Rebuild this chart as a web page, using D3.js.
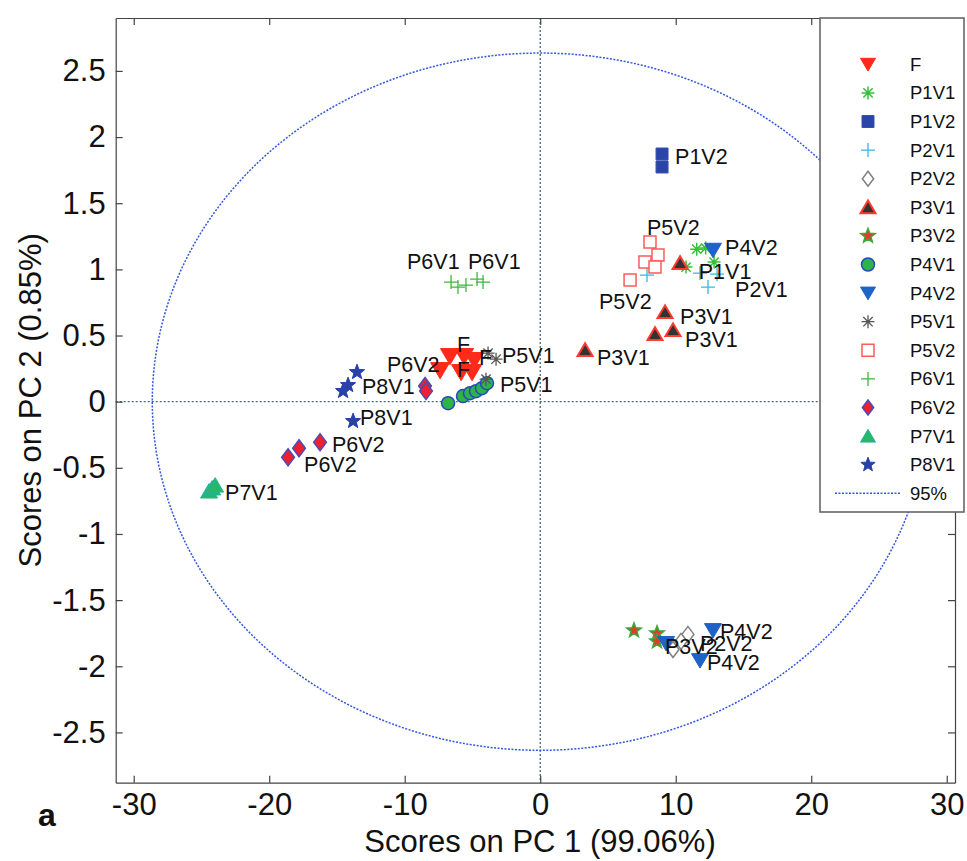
<!DOCTYPE html>
<html>
<head>
<meta charset="utf-8">
<script src="https://cdn.jsdelivr.net/npm/d3@7"></script>
<style>
  body { margin: 0; background: #fff; }
  svg { display: block; }
  text { font-family: "Liberation Sans", Arial, Helvetica, sans-serif; fill: #111; }
</style>
</head>
<body>
<svg id="chart" width="967" height="861"></svg>
<script>
// PCA scores (PC1, PC2) per sample group
const F    = [[-7.39, 0.238], [-6.66, 0.344], [-5.84, 0.223], [-5.62, 0.344], [-4.87, 0.314], [-5.03, 0.223]];
const P1V1 = [[12.21, 1.161], [11.55, 1.153], [10.76, 1.017], [12.83, 1.055]];
const P1V2 = [[8.99, 1.872], [8.99, 1.774]];
const P2V1 = [[7.88, 0.957], [11.79, 0.972], [13.05, 0.964], [12.38, 0.866]];
const P2V2 = [[10.90, -1.759], [10.39, -1.812], [9.80, -1.873]];
const P3V1 = [[10.32, 1.048], [9.21, 0.677], [8.47, 0.511], [9.80, 0.541], [3.31, 0.390]];
const P3V2 = [[6.92, -1.729], [8.62, -1.751], [8.62, -1.812]];
const P4V1 = [[-6.80, -0.011], [-5.70, 0.042], [-5.18, 0.064], [-4.74, 0.079], [-4.30, 0.102], [-3.93, 0.140]];
const P4V2 = [[12.75, 1.146], [12.75, -1.729], [11.79, -1.956], [9.29, -1.826]];
const P5V1 = [[-3.85, 0.367], [-3.26, 0.321], [-4.00, 0.170]];
const P5V2 = [[8.10, 1.206], [8.69, 1.108], [7.73, 1.055], [8.47, 1.017], [6.63, 0.919]];
const P6V1 = [[-6.58, 0.904], [-6.07, 0.866], [-5.48, 0.881], [-4.66, 0.927], [-4.22, 0.904]];
const P6V2 = [[-8.50, 0.118], [-8.43, 0.080], [-18.61, -0.420], [-17.80, -0.352], [-16.25, -0.306]];
const P7V1 = [[-24.44, -0.677], [-24.21, -0.654], [-23.99, -0.632]];
const P8V1 = [[-13.52, 0.223], [-14.18, 0.125], [-14.55, 0.080], [-13.81, -0.147]];

// Sample annotations: text and anchor (PC1, PC2)
const pointLabels = [
  ["F", -6.14, 0.427], ["F", -6.14, 0.238], ["F", -4.52, 0.329],
  ["P1V1", 11.70, 0.979],
  ["P1V2", 9.95, 1.85],
  ["P2V1", 14.38, 0.843],
  ["P3V1", 10.32, 0.639], ["P3V1", 10.69, 0.465], ["P3V1", 4.19, 0.329],
  ["P3V2", 9.21, -1.858],
  ["P2V2", 11.79, -1.835],
  ["P4V2", 13.64, 1.161], ["P4V2", 13.27, -1.744], ["P4V2", 12.31, -1.979],
  ["P5V1", -2.82, 0.344], ["P5V1", -2.97, 0.125],
  ["P5V2", 7.88, 1.312], ["P5V2", 4.34, 0.753],
  ["P6V1", -9.83, 1.055], ["P6V1", -5.33, 1.055],
  ["P6V2", -11.31, 0.276], ["P6V2", -15.37, -0.329], ["P6V2", -17.43, -0.480],
  ["P7V1", -23.26, -0.692],
  ["P8V1", -13.15, 0.110], ["P8V1", -13.30, -0.125]
];

const groupNames = ["F", "P1V1", "P1V2", "P2V1", "P2V2", "P3V1", "P3V2", "P4V1", "P4V2",
                    "P5V1", "P5V2", "P6V1", "P6V2", "P7V1", "P8V1"];
const groupData = [F, P1V1, P1V2, P2V1, P2V2, P3V1, P3V2, P4V1, P4V2, P5V1, P5V2, P6V1, P6V2, P7V1, P8V1];

const xTicks = [-30, -20, -10, 0, 10, 20, 30];
const xTickLabels = ["-30", "-20", "-10", "0", "10", "20", "30"];
const yTicks = [-2.5, -2, -1.5, -1, -0.5, 0, 0.5, 1, 1.5, 2, 2.5];
const yTickLabels = ["-2.5", "-2", "-1.5", "-1", "-0.5", "0", "0.5", "1", "1.5", "2", "2.5"];

// 95% confidence ellipse semi-axes (PC1, PC2)
const limit95 = [28.63, 2.635];

const xTitle = "Scores on PC 1 (99.06%)";
const yTitle = "Scores on PC 2 (0.85%)";
const panelTag = "a";

// Marker appearance per group
const styles = {
  F:    { shape: "triDown",  size: 19, fill: "#ff2a1a", stroke: "#ff2a1a", sw: 1 },
  P1V1: { shape: "asterisk", size: 13, fill: "none",    stroke: "#35c03a", sw: 1.5 },
  P1V2: { shape: "square",   size: 12, fill: "#2a45a8", stroke: "#3a4fb0", sw: 1 },
  P2V1: { shape: "plus",     size: 14, fill: "none",    stroke: "#35b8e0", sw: 1.3 },
  P2V2: { shape: "diamond",  size: 16, fill: "#fff",    stroke: "#808080", sw: 1.5 },
  P3V1: { shape: "triUp",    size: 15, fill: "#333",    stroke: "#ff3b30", sw: 2 },
  P3V2: { shape: "star",     size: 15, fill: "#e8382a", stroke: "#3aa83a", sw: 1.5 },
  P4V1: { shape: "circle",   size: 13, fill: "#2db34a", stroke: "#2448c0", sw: 1.5 },
  P4V2: { shape: "triDown",  size: 17, fill: "#1f62c8", stroke: "#1f62c8", sw: 1 },
  P5V1: { shape: "asterisk", size: 13, fill: "none",    stroke: "#555",    sw: 1.3 },
  P5V2: { shape: "square",   size: 12, fill: "#fff",    stroke: "#ff5a5a", sw: 1.5 },
  P6V1: { shape: "plus",     size: 14, fill: "none",    stroke: "#3cb83c", sw: 1.3 },
  P6V2: { shape: "diamond",  size: 17, fill: "#ee2030", stroke: "#4a4ab8", sw: 1.5 },
  P7V1: { shape: "triUp",    size: 17, fill: "#23b86a", stroke: "#2ab0a0", sw: 1 },
  P8V1: { shape: "star",     size: 16, fill: "#2840a8", stroke: "#2840a8", sw: 1 }
};

function markerPath(shape, s) {
  const h = s / 2;
  switch (shape) {
    case "triDown": return `M${-h},${-h * 0.8}L${h},${-h * 0.8}L0,${h * 0.9}Z`;
    case "triUp":   return `M${-h},${h * 0.8}L${h},${h * 0.8}L0,${-h * 0.9}Z`;
    case "square":  return `M${-h},${-h}H${h}V${h}H${-h}Z`;
    case "diamond": return `M0,${-h}L${h * 0.75},0L0,${h}L${-h * 0.75},0Z`;
    case "circle":  return `M${h},0A${h},${h} 0 1,1 ${-h},0A${h},${h} 0 1,1 ${h},0Z`;
    case "plus":    return `M${-h},0H${h}M0,${-h}V${h}`;
    case "asterisk": {
      const d = h * 0.72;
      return `M${-h},0H${h}M0,${-h}V${h}M${-d},${-d}L${d},${d}M${-d},${d}L${d},${-d}`;
    }
    case "star": {
      const pts = [];
      for (let i = 0; i < 10; i++) {
        const r = i % 2 === 0 ? h : h * 0.42;
        const a = -Math.PI / 2 + i * Math.PI / 5;
        pts.push([r * Math.cos(a), r * Math.sin(a)]);
      }
      return "M" + pts.map(p => p.join(",")).join("L") + "Z";
    }
  }
  return "";
}

const svg = d3.select("#chart");
const plot = { left: 115.7, right: 955, top: 18, bottom: 782.7 };

const x = d3.scaleLinear().domain([-31.33, 30.61]).range([plot.left, plot.right]);
const y = d3.scaleLinear().domain([-2.88, 2.90]).range([plot.bottom, plot.top]);

// Zero reference lines
svg.append("line")
  .attr("x1", x(0)).attr("x2", x(0)).attr("y1", plot.top).attr("y2", plot.bottom)
  .attr("stroke", "#44687a").attr("stroke-width", 1.3).attr("stroke-dasharray", "2,2");
svg.append("line")
  .attr("x1", plot.left).attr("x2", plot.right).attr("y1", y(0)).attr("y2", y(0))
  .attr("stroke", "#44687a").attr("stroke-width", 1.3).attr("stroke-dasharray", "2,2");

// 95% confidence ellipse
svg.append("ellipse")
  .attr("cx", x(0)).attr("cy", y(0))
  .attr("rx", x(limit95[0]) - x(0)).attr("ry", y(0) - y(limit95[1]))
  .attr("fill", "none").attr("stroke", "#3358e0").attr("stroke-width", 1.5)
  .attr("stroke-dasharray", "2,1.5");

// Axes (ticks pointing inward on all four sides)
const axisColor = "#444";
function styleAxis(g) {
  g.selectAll("path, line").attr("stroke", axisColor).attr("stroke-width", 1.2);
  g.selectAll("text").attr("fill", "#111").style("font-family", '"Liberation Sans", Arial, sans-serif');
}
svg.append("g").attr("transform", `translate(0,${plot.bottom})`)
  .call(d3.axisBottom(x).tickValues(xTicks).tickFormat((d, i) => xTickLabels[i])
    .tickSizeInner(-7).tickSizeOuter(0).tickPadding(10))
  .call(styleAxis)
  .call(g => g.selectAll("text").attr("font-size", 31));
svg.append("g").attr("transform", `translate(${plot.left},0)`)
  .call(d3.axisLeft(y).tickValues(yTicks).tickFormat((d, i) => yTickLabels[i])
    .tickSizeInner(-7).tickSizeOuter(0).tickPadding(10))
  .call(styleAxis)
  .call(g => g.selectAll("text").attr("font-size", 31));
svg.append("g").attr("transform", `translate(0,${plot.top})`)
  .call(d3.axisTop(x).tickValues(xTicks).tickFormat("").tickSizeInner(-7).tickSizeOuter(0))
  .call(styleAxis);
svg.append("g").attr("transform", `translate(${plot.right},0)`)
  .call(d3.axisRight(y).tickValues(yTicks).tickFormat("").tickSizeInner(-7).tickSizeOuter(0))
  .call(styleAxis);

// Markers
groupNames.forEach((name, gi) => {
  const st = styles[name];
  svg.append("g").attr("class", "series-" + name)
    .selectAll("path").data(groupData[gi]).join("path")
    .attr("transform", d => `translate(${x(d[0])},${y(d[1])})`)
    .attr("d", markerPath(st.shape, st.size))
    .attr("fill", st.fill).attr("stroke", st.stroke).attr("stroke-width", st.sw)
    .attr("stroke-linejoin", "miter");
});

// Sample labels
svg.append("g").selectAll("text").data(pointLabels).join("text")
  .attr("x", d => x(d[1])).attr("y", d => y(d[2]))
  .attr("dominant-baseline", "central")
  .attr("font-size", 21.5)
  .text(d => d[0]);

// Axis titles and panel tag
svg.append("text")
  .attr("x", 540).attr("y", 841)
  .attr("text-anchor", "middle").attr("dominant-baseline", "central")
  .attr("font-size", 31).text(xTitle);
svg.append("text")
  .attr("transform", `translate(30,${(plot.top + plot.bottom) / 2}) rotate(-90)`)
  .attr("text-anchor", "middle").attr("dominant-baseline", "central")
  .attr("font-size", 31).text(yTitle);
svg.append("text")
  .attr("x", 38).attr("y", 815)
  .attr("dominant-baseline", "central")
  .attr("font-size", 32).attr("font-weight", "bold").text(panelTag);

// Legend
const legend = { x: 820, y: 18, w: 144, h: 494, symX: 868, textX: 910, firstRow: 64.3, rowStep: 28.6 };
svg.append("rect")
  .attr("x", legend.x).attr("y", legend.y).attr("width", legend.w).attr("height", legend.h)
  .attr("fill", "#fff").attr("stroke", "#666").attr("stroke-width", 1.6);
const legendRows = svg.append("g").selectAll("g").data(groupNames).join("g")
  .attr("transform", (d, i) => `translate(0,${legend.firstRow + i * legend.rowStep})`);
legendRows.append("path")
  .attr("transform", `translate(${legend.symX},0)`)
  .attr("d", d => markerPath(styles[d].shape, Math.min(styles[d].size, 15)))
  .attr("fill", d => styles[d].fill).attr("stroke", d => styles[d].stroke)
  .attr("stroke-width", d => styles[d].sw);
legendRows.append("text")
  .attr("x", legend.textX).attr("dominant-baseline", "central")
  .attr("font-size", 18.5).text(d => d);
const ellipseRowY = legend.firstRow + groupNames.length * legend.rowStep;
svg.append("line")
  .attr("x1", 835).attr("x2", 901).attr("y1", ellipseRowY).attr("y2", ellipseRowY)
  .attr("stroke", "#3358e0").attr("stroke-width", 1.5).attr("stroke-dasharray", "2,1.5");
svg.append("text")
  .attr("x", legend.textX).attr("y", ellipseRowY).attr("dominant-baseline", "central")
  .attr("font-size", 18.5).text("95%");
</script>
</body>
</html>
